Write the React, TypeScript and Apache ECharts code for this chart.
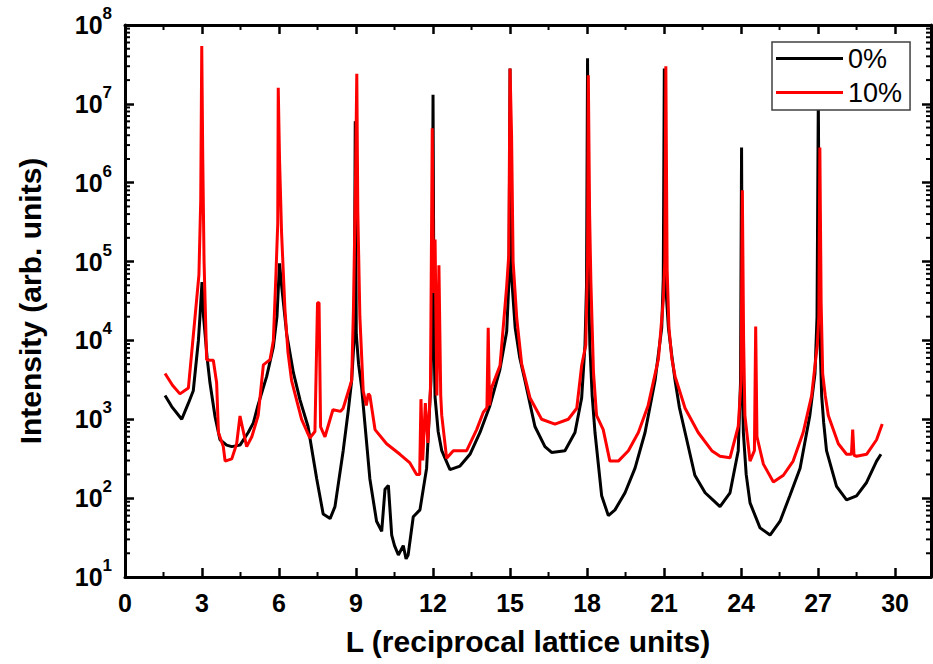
import React, { useEffect, useRef } from "react";
import * as echarts from "echarts";

const FONT = "'Liberation Sans', Arial, Helvetica, sans-serif";

// Axis ranges and tick values
const X_MIN = 0;
const X_MAX = 31.4;
const X_INTERVAL = 3;
const Y_MIN = 10;
const Y_MAX = 1e8;
const X_MINOR_TICKS = [1.5, 4.5, 7.5, 10.5, 13.5, 16.5, 19.5, 22.5, 25.5, 28.5];
const Y_DECADES = [1, 2, 3, 4, 5, 6, 7];
const Y_MINOR_MULTIPLIERS = [2, 3, 4, 5, 6, 7, 8, 9];

const SERIES_NAMES = ["0%", "10%"];

// 0% sample: [L, intensity]
const data0: [number, number][] = [
  [1.56, 2000], [1.82, 1450], [2.21, 1000], [2.47, 1600], [2.66, 2300], [2.86, 1.0e4],
  [2.92, 2.0e4], [3.0, 5.5e4], [3.06, 2.0e4], [3.12, 1.2e4], [3.2, 6000], [3.31, 2900],
  [3.51, 1070], [3.7, 550], [3.96, 470], [4.16, 450], [4.48, 470], [4.8, 680], [5.0, 900],
  [5.18, 1500], [5.52, 3500], [5.78, 8300], [5.92, 2.0e4], [6.02, 9.5e4], [6.1, 5e4],
  [6.3, 1.2e4], [6.56, 3900], [6.82, 1750], [7.13, 810], [7.47, 175], [7.72, 63],
  [7.99, 55], [8.18, 78], [8.5, 400], [8.7, 1300], [8.83, 3100], [8.93, 1.1e4], [8.97, 6e6],
  [9.01, 1.2e4], [9.1, 5000], [9.22, 2500], [9.54, 175], [9.8, 51], [10.0, 38], [10.13, 130],
  [10.26, 145], [10.39, 34], [10.5, 25], [10.65, 19], [10.84, 25], [10.95, 17],
  [11.03, 19], [11.23, 58], [11.49, 71], [11.75, 240], [11.92, 3100], [11.97, 2e4],
  [12.0, 1.3e7], [12.04, 1e4], [12.08, 1900], [12.2, 700], [12.34, 400], [12.66, 230],
  [13.05, 255], [13.44, 360], [13.83, 680], [14.22, 1500], [14.6, 4200], [14.87, 1.3e4],
  [14.96, 6e4], [15.0, 2.8e7], [15.04, 8e4], [15.2, 1.45e4], [15.38, 6000], [15.58, 3100],
  [15.97, 810], [16.36, 450], [16.62, 380], [17.14, 400], [17.53, 680], [17.79, 1860],
  [17.92, 8700], [17.98, 5e4], [18.02, 3.8e7], [18.06, 5e4], [18.11, 8700], [18.2, 2000],
  [18.31, 680], [18.57, 107], [18.83, 60], [19.09, 71], [19.48, 117], [19.87, 240],
  [20.26, 680], [20.65, 3100], [20.91, 1.45e4], [20.97, 6e4], [21.01, 2.8e7], [21.05, 6e4],
  [21.17, 1.45e4], [21.3, 6500], [21.43, 3100], [21.6, 1400], [21.82, 680], [22.2, 195],
  [22.6, 117], [22.9, 95], [23.18, 78], [23.57, 117], [23.89, 400], [23.98, 3000],
  [24.02, 2.8e6], [24.06, 2000], [24.09, 680], [24.2, 200], [24.35, 87], [24.74, 42],
  [25.13, 34], [25.52, 51], [25.9, 107], [26.3, 240], [26.68, 1120], [26.88, 3800],
  [26.96, 2e4], [27.01, 1.2e7], [27.06, 1.5e4], [27.14, 2000], [27.22, 900], [27.33, 400],
  [27.72, 141], [28.11, 95], [28.5, 107], [28.89, 158], [29.28, 295], [29.45, 360],
];

// 10% sample: [L, intensity]
const data10: [number, number][] = [
  [1.56, 3800], [1.85, 2700], [2.14, 2100], [2.47, 2500], [2.73, 2e4], [2.88, 6.8e4],
  [2.95, 6e5], [2.99, 5.4e7], [3.03, 2e6], [3.08, 1e5], [3.18, 5700], [3.31, 5600],
  [3.44, 5600], [3.57, 2900], [3.64, 680], [3.83, 450], [3.9, 295], [4.16, 315],
  [4.35, 490], [4.48, 1100], [4.61, 700], [4.74, 450], [4.94, 600], [5.19, 1120],
  [5.39, 4900], [5.65, 5700], [5.78, 1e4], [5.88, 6.8e4], [5.95, 3e5], [5.97, 1.6e7],
  [6.02, 2e6], [6.1, 2.3e5], [6.23, 2.5e4], [6.35, 7000], [6.49, 3100], [6.88, 1000],
  [7.2, 580], [7.4, 700], [7.5, 3e4], [7.56, 3e4], [7.62, 800], [7.79, 600], [8.1, 1320],
  [8.4, 1260], [8.5, 1380], [8.83, 3100], [8.9, 2.5e4], [8.98, 1e6], [9.03, 2.4e7],
  [9.07, 4.3e5], [9.15, 2e4], [9.28, 2300], [9.4, 1500], [9.48, 2100], [9.54, 2000],
  [9.74, 740], [10.19, 490], [10.71, 360], [11.1, 280], [11.36, 200], [11.48, 200],
  [11.53, 1800], [11.6, 300], [11.7, 1600], [11.8, 500], [11.9, 2500], [11.97, 4.9e6],
  [12.02, 4e4], [12.08, 1.9e5], [12.15, 2000], [12.23, 9e4], [12.3, 2000], [12.34, 1120],
  [12.53, 320], [12.79, 400], [13.31, 400], [13.7, 740], [13.96, 1230], [14.1, 1400],
  [14.15, 1.45e4], [14.2, 1500], [14.28, 2500], [14.61, 4800], [14.87, 4.9e4], [14.95, 1.2e5],
  [15.0, 2.8e7], [15.06, 4e6], [15.12, 1e5], [15.26, 1.95e4], [15.45, 5100], [15.78, 1860],
  [16.23, 1000], [16.75, 870], [17.27, 1000], [17.6, 1380], [17.79, 4800], [17.95, 8700],
  [18.02, 1e5], [18.05, 2.3e7], [18.1, 4e5], [18.15, 5.5e4], [18.25, 4000], [18.37, 1120],
  [18.63, 740], [18.89, 295], [19.22, 295], [19.61, 400], [20.0, 680], [20.38, 1500],
  [20.78, 5800], [20.97, 3.2e4], [21.03, 1e5], [21.07, 3e7], [21.12, 8e4], [21.19, 1.45e4],
  [21.3, 6000], [21.43, 3500], [21.82, 1380], [22.33, 680], [22.86, 400], [23.18, 340],
  [23.57, 325], [23.89, 810], [24.0, 3000], [24.05, 8e5], [24.1, 1e4], [24.15, 1120],
  [24.35, 295], [24.52, 400], [24.57, 1.5e4], [24.62, 600], [24.87, 270], [25.26, 160],
  [25.65, 195], [26.03, 295], [26.42, 680], [26.75, 2000], [26.97, 8700], [27.03, 2e4],
  [27.07, 2.8e6], [27.12, 3e4], [27.18, 3800], [27.28, 2000], [27.4, 1120], [27.79, 490],
  [28.11, 360], [28.3, 360], [28.35, 740], [28.4, 350], [28.5, 340], [28.89, 360],
  [29.28, 550], [29.5, 870],
];

export default function App() {
  const ref = useRef<HTMLDivElement>(null);

  useEffect(() => {
    if (!ref.current) return;
    const chart = echarts.init(ref.current, null, { renderer: "svg" });

    // minor tick positions: [x, y, kind] kind 0 = y-axis minor, 1 = x-axis minor
    const minorTickData: number[][] = [];
    Y_DECADES.forEach((d) => {
      Y_MINOR_MULTIPLIERS.forEach((m) => {
        minorTickData.push([1, m * Math.pow(10, d), 0]);
      });
    });
    X_MINOR_TICKS.forEach((x) => minorTickData.push([x, 100, 1]));

    const tickStyle = { stroke: "#000", lineWidth: 2 };
    const MINOR_LEN = 5;

    const option: any = {
      animation: false,
      grid: {
        left: 125,
        right: 2,
        top: 25,
        bottom: 87,
        containLabel: false,
        outerBoundsMode: "none",
      },
      legend: {
        orient: "vertical",
        left: 772,
        top: 42,
        data: SERIES_NAMES,
        icon: "rect",
        itemWidth: 67,
        itemHeight: 3,
        itemGap: 7,
        padding: [3, 8, 4, 4],
        borderColor: "#404040",
        borderWidth: 1.5,
        backgroundColor: "#fff",
        textStyle: { fontSize: 27, fontFamily: FONT, color: "#000", lineHeight: 26 },
      },
      xAxis: [
        {
          type: "value",
          position: "bottom",
          min: X_MIN,
          max: X_MAX,
          interval: X_INTERVAL,
          name: "L (reciprocal lattice units)",
          nameLocation: "middle",
          nameGap: 49,
          nameTextStyle: { fontSize: 30, fontWeight: "bold", fontFamily: FONT, color: "#000" },
          axisLine: { show: true, onZero: false, lineStyle: { color: "#000", width: 3 } },
          axisTick: { show: true, inside: true, length: 9, lineStyle: { color: "#000", width: 2.5 } },
          axisLabel: {
            show: true,
            margin: 13,
            fontSize: 25,
            fontWeight: "bold",
            fontFamily: FONT,
            color: "#000",
            showMaxLabel: false,
            formatter: (v: number) => (Math.abs(v % X_INTERVAL) < 1e-9 ? String(v) : ""),
          },
          splitLine: { show: false },
        },
        {
          type: "value",
          position: "top",
          min: X_MIN,
          max: X_MAX,
          interval: X_INTERVAL,
          axisLine: { show: true, onZero: false, lineStyle: { color: "#000", width: 3 } },
          axisTick: { show: true, inside: true, length: 9, lineStyle: { color: "#000", width: 2.5 } },
          axisLabel: { show: false },
          splitLine: { show: false },
        },
      ],
      yAxis: [
        {
          type: "log",
          logBase: 10,
          position: "left",
          min: Y_MIN,
          max: Y_MAX,
          name: "Intensity (arb. units)",
          nameLocation: "middle",
          nameGap: 80,
          nameTextStyle: { fontSize: 30, fontWeight: "bold", fontFamily: FONT, color: "#000" },
          axisLine: { show: true, onZero: false, lineStyle: { color: "#000", width: 3 } },
          axisTick: { show: true, inside: true, length: 9, lineStyle: { color: "#000", width: 2.5 } },
          axisLabel: {
            margin: 13,
            formatter: (v: number) => `{b|10}{s|${Math.round(Math.log10(v))}}`,
            rich: {
              b: {
                fontSize: 25,
                fontWeight: "bold",
                fontFamily: FONT,
                color: "#000",
                lineHeight: 40,
              },
              s: {
                fontSize: 17,
                fontWeight: "bold",
                fontFamily: FONT,
                color: "#000",
                lineHeight: 17,
                verticalAlign: "top",
              },
            },
          },
          splitLine: { show: false },
        },
        {
          type: "log",
          logBase: 10,
          position: "right",
          min: Y_MIN,
          max: Y_MAX,
          axisLine: { show: true, onZero: false, lineStyle: { color: "#000", width: 3 } },
          axisTick: { show: true, inside: true, length: 9, lineStyle: { color: "#000", width: 2.5 } },
          axisLabel: { show: false },
          splitLine: { show: false },
        },
      ],
      series: [
        {
          name: SERIES_NAMES[0],
          type: "line",
          xAxisIndex: 0,
          yAxisIndex: 0,
          data: data0,
          showSymbol: false,
          symbol: "none",
          lineStyle: { color: "#000000", width: 3 },
          itemStyle: { color: "#000000" },
          emphasis: { disabled: true },
          z: 2,
        },
        {
          name: SERIES_NAMES[1],
          type: "line",
          xAxisIndex: 0,
          yAxisIndex: 0,
          data: data10,
          showSymbol: false,
          symbol: "none",
          lineStyle: { color: "#ff0000", width: 3 },
          itemStyle: { color: "#ff0000" },
          emphasis: { disabled: true },
          z: 3,
        },
        {
          name: "minorTicks",
          type: "custom",
          xAxisIndex: 0,
          yAxisIndex: 0,
          silent: true,
          clip: false,
          z: 10,
          data: minorTickData,
          renderItem: (params: any, api: any) => {
            const cs = params.coordSys;
            const kind = api.value(2);
            if (kind === 0) {
              const y = api.coord([1, api.value(1)])[1];
              return {
                type: "group",
                children: [
                  { type: "line", shape: { x1: cs.x, y1: y, x2: cs.x + MINOR_LEN, y2: y }, style: tickStyle },
                  {
                    type: "line",
                    shape: { x1: cs.x + cs.width, y1: y, x2: cs.x + cs.width - MINOR_LEN, y2: y },
                    style: tickStyle,
                  },
                ],
              };
            }
            const x = api.coord([api.value(0), 100])[0];
            return {
              type: "group",
              children: [
                { type: "line", shape: { x1: x, y1: cs.y + cs.height, x2: x, y2: cs.y + cs.height - MINOR_LEN }, style: tickStyle },
                { type: "line", shape: { x1: x, y1: cs.y, x2: x, y2: cs.y + MINOR_LEN }, style: tickStyle },
              ],
            };
          },
        },
      ],
    };

    chart.setOption(option);
    return () => chart.dispose();
  }, []);

  return (
    <div
      ref={ref}
      style={{ position: "fixed", left: 0, top: 0, width: 933, height: 664, background: "#fff" }}
    />
  );
}
